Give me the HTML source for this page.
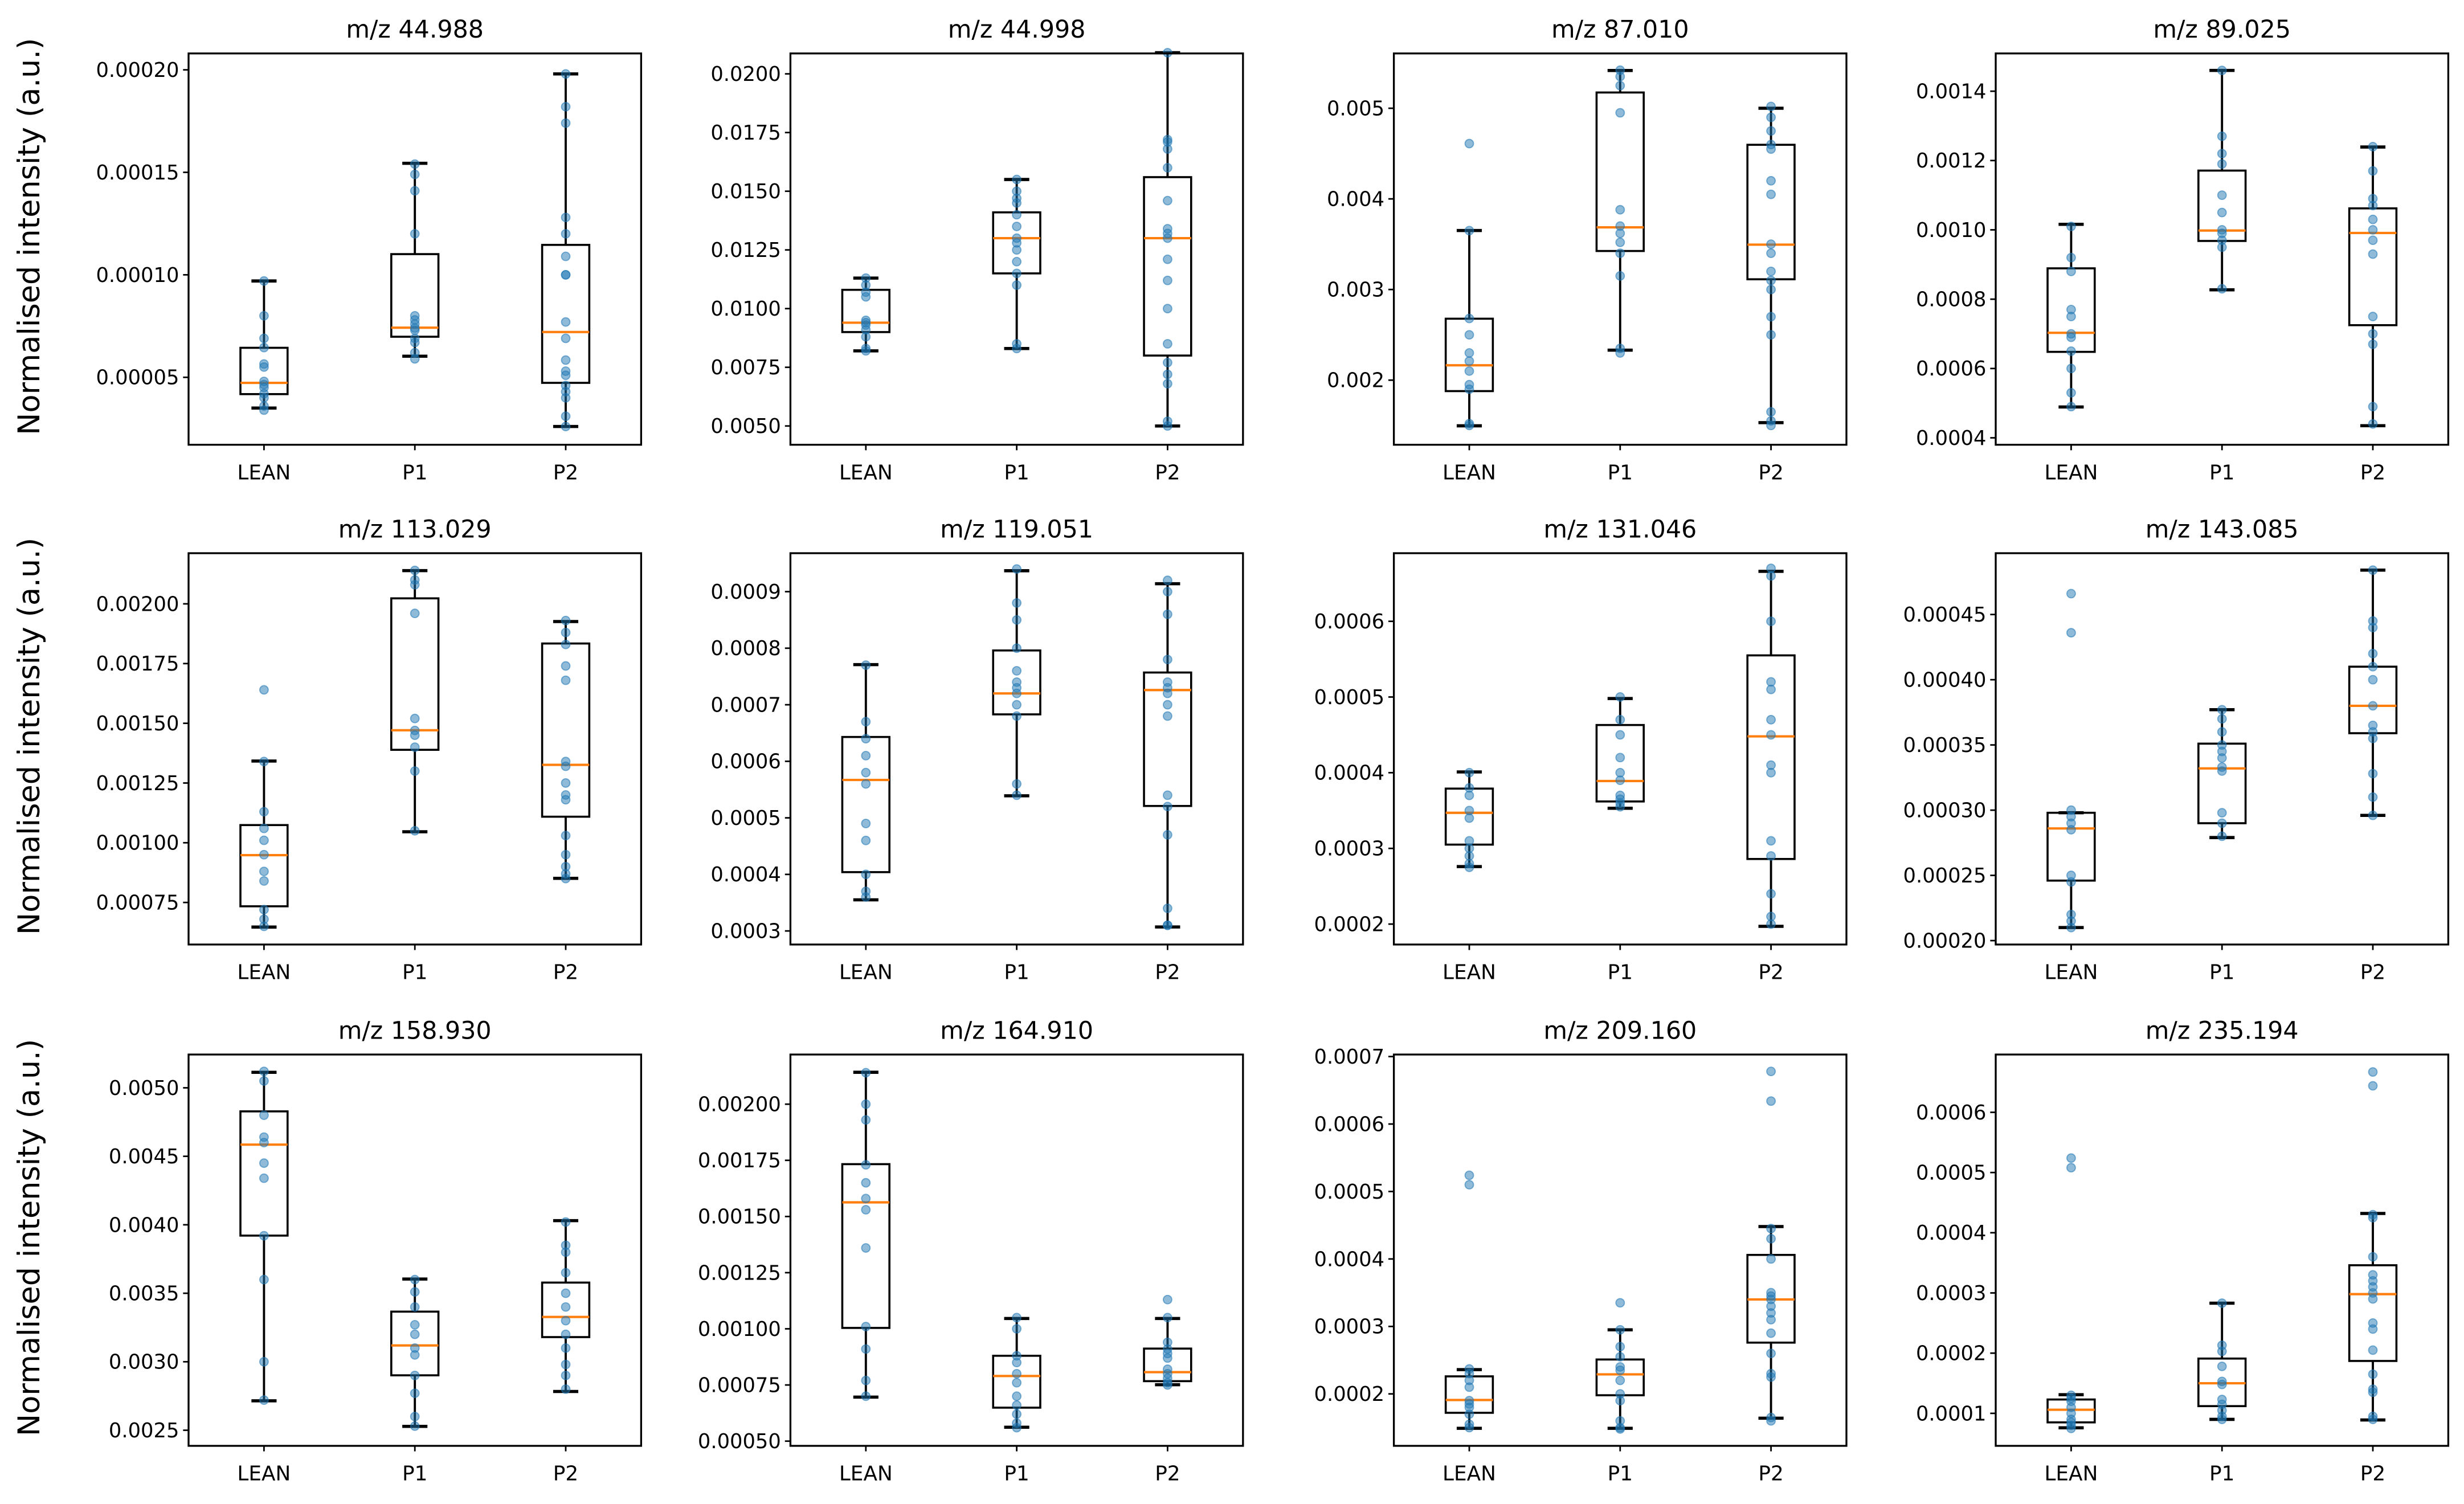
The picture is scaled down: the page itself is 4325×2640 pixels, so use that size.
<!DOCTYPE html>
<html><head><meta charset="utf-8"><style>
html,body{margin:0;padding:0;background:#fff;}
svg{display:block;}
text{font-family:"DejaVu Sans","Liberation Sans",sans-serif;fill:#000;}
</style></head><body>
<svg id="fig" width="4325" height="2640" viewBox="0 0 1568 957" preserveAspectRatio="none" xmlns="http://www.w3.org/2000/svg"></svg>
<script>
const titles=["m/z 44.988","m/z 44.998","m/z 87.010","m/z 89.025","m/z 113.029","m/z 119.051","m/z 131.046","m/z 143.085","m/z 158.930","m/z 164.910","m/z 209.160","m/z 235.194"];
const categories=["LEAN","P1","P2"];
const ylims=[[0.0000171,0.000208],[0.0042,0.02087],[0.001287,0.005605],[0.00038,0.001509],[0.000574,0.002212],[0.000276,0.000968],[0.000173,0.00069],[0.000197,0.000497],[0.002386,0.005243],[0.000479,0.002221],[0.000123,0.000703],[0.000046,0.000696]];
const tickValues=[[0.00005,0.0001,0.00015,0.0002],[0.005,0.0075,0.01,0.0125,0.015,0.0175,0.02],[0.002,0.003,0.004,0.005],[0.0004,0.0006,0.0008,0.001,0.0012,0.0014],[0.00075,0.001,0.00125,0.0015,0.00175,0.002],[0.0003,0.0004,0.0005,0.0006,0.0007,0.0008,0.0009],[0.0002,0.0003,0.0004,0.0005,0.0006],[0.0002,0.00025,0.0003,0.00035,0.0004,0.00045],[0.0025,0.003,0.0035,0.004,0.0045,0.005],[0.0005,0.00075,0.001,0.00125,0.0015,0.00175,0.002],[0.0002,0.0003,0.0004,0.0005,0.0006,0.0007],[0.0001,0.0002,0.0003,0.0004,0.0005,0.0006]];
const tickDecimals=[5,4,3,4,5,4,4,5,4,5,4,4];
// stats per group: [whiskerLow, q1, median, q3, whiskerHigh]
const stats=[
[[0.000035,0.0000418,0.0000473,0.0000644,0.000097],[0.0000603,0.0000698,0.0000742,0.0001101,0.0001544],[0.000026,0.0000473,0.0000721,0.0001146,0.000198]],
[[0.0082,0.0090,0.0094,0.0108,0.0113],[0.0083,0.0115,0.0130,0.0141,0.0155],[0.0050,0.0080,0.0130,0.0156,0.0209]],
[[0.001496,0.001879,0.002164,0.002678,0.003651],[0.002331,0.003425,0.003686,0.005174,0.005417],[0.001531,0.003113,0.003495,0.004597,0.005]],
[[0.000489,0.000648,0.000703,0.000889,0.001016],[0.000827,0.000968,0.000998,0.001171,0.00146],[0.000435,0.000725,0.000991,0.001062,0.001239]],
[[0.000647,0.000734,0.000948,0.001074,0.001342],[0.001046,0.001389,0.001471,0.002023,0.002139],[0.000851,0.001109,0.001326,0.001834,0.001926]],
[[0.000355,0.000404,0.000567,0.000643,0.000771],[0.000539,0.000683,0.00072,0.000796,0.000937],[0.000307,0.000521,0.000726,0.000757,0.000914]],
[[0.000276,0.000305,0.000347,0.000379,0.000401],[0.000353,0.000362,0.000389,0.000463,0.000498],[0.000197,0.000286,0.000448,0.000555,0.000666]],
[[0.00021,0.000246,0.000286,0.000298,0.000298],[0.000279,0.00029,0.000332,0.000351,0.000377],[0.000296,0.000359,0.00038,0.00041,0.000484]],
[[0.002715,0.003921,0.004585,0.004828,0.005113],[0.002528,0.002901,0.003119,0.003366,0.003604],[0.002783,0.00318,0.003327,0.003578,0.00403]],
[[0.000696,0.001004,0.001563,0.001733,0.002142],[0.000562,0.000649,0.00079,0.00088,0.001046],[0.000751,0.000767,0.000807,0.000912,0.001046]],
[[0.000149,0.000172,0.000191,0.000226,0.000236],[0.000149,0.000198,0.000229,0.000251,0.000295],[0.000164,0.000276,0.00034,0.000406,0.000448]],
[[0.000076,0.000085,0.000106,0.000123,0.000131],[0.00009,0.000112,0.00015,0.000191,0.000283],[0.000089,0.000187,0.000298,0.000346,0.000432]]
];
const points=[
[[0.000097,0.00008,0.000069,0.0000645,0.0000565,0.000055,0.000048,0.0000465,0.000045,0.000042,0.00004,0.000036,0.000034],[0.000154,0.000149,0.000141,0.00012,0.00008,0.000078,0.000076,0.000074,0.000073,0.000069,0.000067,0.000062,0.000059],[0.000198,0.000182,0.000174,0.000128,0.00012,0.000109,0.0001,0.0001,0.000077,0.000069,0.0000584,0.000053,0.000051,0.000046,0.000043,0.00004,0.000031,0.000026]],
[[0.0113,0.0110,0.0107,0.0105,0.0095,0.0094,0.0093,0.0091,0.0088,0.0083,0.0082],[0.0155,0.0150,0.0147,0.0145,0.0140,0.0135,0.0130,0.0128,0.0125,0.0120,0.0115,0.0110,0.0085,0.0083],[0.0209,0.0172,0.0171,0.0168,0.0160,0.0146,0.0134,0.0132,0.0130,0.0121,0.0112,0.0100,0.0085,0.0077,0.0072,0.0068,0.0052,0.0050]],
[[0.00461,0.00365,0.00268,0.0025,0.0023,0.00221,0.0021,0.00195,0.0019,0.00152,0.0015],[0.00542,0.00535,0.00525,0.00495,0.00388,0.0037,0.00362,0.00352,0.0034,0.00315,0.00235,0.0023],[0.00502,0.0049,0.00475,0.0046,0.00455,0.0042,0.00405,0.0035,0.0034,0.0032,0.0031,0.003,0.0027,0.0025,0.00165,0.00155,0.0015]],
[[0.00101,0.00092,0.00088,0.00077,0.00075,0.0007,0.00069,0.00065,0.0006,0.00053,0.00049],[0.00146,0.00127,0.00122,0.00119,0.0011,0.00105,0.001,0.00099,0.00097,0.00095,0.00083],[0.00124,0.00117,0.00109,0.00107,0.00103,0.001,0.00097,0.00093,0.00075,0.0007,0.00067,0.00049,0.00044]],
[[0.00164,0.00134,0.00113,0.00106,0.00101,0.00095,0.00088,0.00084,0.00072,0.00068,0.00065],[0.00214,0.0021,0.00208,0.00196,0.00152,0.00147,0.00145,0.0014,0.0013,0.00105],[0.00193,0.00188,0.00183,0.00174,0.00168,0.00134,0.00132,0.00125,0.0012,0.00118,0.00103,0.00095,0.0009,0.00087,0.00085]],
[[0.00077,0.00067,0.00064,0.00061,0.00058,0.00056,0.00049,0.00046,0.0004,0.00037,0.00036],[0.00094,0.00088,0.00085,0.0008,0.00076,0.00074,0.00073,0.00072,0.0007,0.00068,0.00056,0.00054],[0.00092,0.0009,0.00086,0.00078,0.00074,0.00073,0.00072,0.0007,0.00068,0.00054,0.00052,0.00047,0.00034,0.00031,0.00031]],
[[0.0004,0.00038,0.00037,0.00035,0.00034,0.00031,0.0003,0.00029,0.00028,0.000275],[0.0005,0.00047,0.00045,0.00042,0.0004,0.00039,0.00037,0.000365,0.00036,0.000355],[0.00067,0.00066,0.0006,0.00052,0.00051,0.00047,0.00045,0.00041,0.0004,0.00031,0.00029,0.00024,0.00021,0.0002]],
[[0.000466,0.000436,0.0003,0.000295,0.00029,0.000285,0.00025,0.000245,0.00022,0.000215,0.00021],[0.000377,0.00037,0.00036,0.00035,0.000345,0.00034,0.00033,0.000333,0.000298,0.00029,0.00028],[0.000484,0.000445,0.00044,0.00042,0.00041,0.0004,0.00038,0.000365,0.00036,0.000355,0.000328,0.00031,0.000296]],
[[0.00512,0.00505,0.0048,0.00464,0.0046,0.00445,0.00434,0.00392,0.0036,0.003,0.00272],[0.0036,0.00351,0.0034,0.00327,0.0032,0.0031,0.00305,0.0029,0.00277,0.0026,0.00253],[0.00402,0.00385,0.0038,0.00365,0.0035,0.0034,0.0033,0.0032,0.0031,0.00298,0.0029,0.0028]],
[[0.00214,0.002,0.00193,0.00173,0.00165,0.00158,0.00153,0.00136,0.00101,0.00091,0.00077,0.0007],[0.00105,0.001,0.00088,0.00085,0.0008,0.00076,0.0007,0.00066,0.00062,0.00058,0.00056],[0.00113,0.00105,0.00094,0.00091,0.00089,0.00087,0.00082,0.0008,0.00078,0.00076,0.00075]],
[[0.000524,0.00051,0.000237,0.00023,0.00022,0.00021,0.00019,0.000185,0.00018,0.00017,0.000155,0.00015],[0.000335,0.000295,0.00027,0.000255,0.00024,0.000235,0.00022,0.0002,0.00019,0.00016,0.00015,0.000148],[0.000678,0.000634,0.000445,0.00043,0.0004,0.00035,0.000345,0.00034,0.00033,0.00032,0.00031,0.00029,0.00026,0.00023,0.000225,0.000165,0.00016]],
[[0.000524,0.000508,0.00013,0.000125,0.00012,0.00011,0.0001,0.00009,0.000085,0.00008,0.000075],[0.000283,0.000213,0.000203,0.000178,0.000153,0.000148,0.000123,0.000115,0.000105,0.000095,0.00009],[0.000667,0.000644,0.00043,0.000425,0.00036,0.00033,0.00032,0.00031,0.0003,0.00029,0.00025,0.00024,0.000205,0.000165,0.00014,0.000135,0.000095,0.00009]]
];

const NS="http://www.w3.org/2000/svg";
const svg=document.getElementById('fig');
const colLeft=[120,503,887,1270], rowTop=[34,352,671], W=288, H=249;
function mk(tag,attrs,parent){const e=document.createElementNS(NS,tag);for(const k in attrs)e.setAttribute(k,attrs[k]);parent.appendChild(e);return e;}

for(let p=0;p<12;p++){
  const r=Math.floor(p/4), c=p%4;
  const x0=colLeft[c], y0=rowTop[r];
  const g=mk('g',{},svg);
  
  
  const lim=ylims[p];
  const yS=v=>y0+H-(v-lim[0])/(lim[1]-lim[0])*H;
  const xS=i=>x0+W*(i+0.5)/3;
  const t=mk('text',{x:x0+W/2,y:y0-10,'text-anchor':'middle','font-size':15.5},g);
  t.textContent=titles[p];
  
  
  tickValues[p].forEach(v=>{
    const y=yS(v);
    const tk=mk('line',{x1:x0-3.5,x2:x0,y1:y,y2:y,stroke:'#000','stroke-width':1},g);
    
    
    const tl=mk('text',{x:x0-6,y:y+4.5,'text-anchor':'end','font-size':12.8},g);
    tl.textContent=v.toFixed(tickDecimals[p]);
    
    
  });
  categories.forEach((cat,i)=>{
    const cx=xS(i), s=stats[p][i];
    const gg=mk('g',{},g);
    
    
    const bw=15, cw=8;
    mk('line',{x1:cx,x2:cx,y1:yS(s[0]),y2:yS(s[1]),stroke:'#000','stroke-width':1.4},gg);
    mk('line',{x1:cx,x2:cx,y1:yS(s[3]),y2:yS(s[4]),stroke:'#000','stroke-width':1.4},gg);
    mk('line',{x1:cx-cw,x2:cx+cw,y1:yS(s[0]),y2:yS(s[0]),stroke:'#000','stroke-width':2},gg);
    mk('line',{x1:cx-cw,x2:cx+cw,y1:yS(s[4]),y2:yS(s[4]),stroke:'#000','stroke-width':2},gg);
    mk('rect',{x:cx-bw,y:yS(s[3]),width:2*bw,height:Math.max(0.5,yS(s[1])-yS(s[3])),fill:'none',stroke:'#000','stroke-width':1.3},gg);
    mk('line',{x1:cx-bw,x2:cx+bw,y1:yS(s[2]),y2:yS(s[2]),stroke:'#ff7f0e','stroke-width':1.5},gg);
    points[p][i].forEach(v=>{
      const d=mk('circle',{cx:cx,cy:yS(v),r:2.7,fill:'#1f77b4','fill-opacity':0.5,stroke:'#1f77b4','stroke-opacity':0.55,'stroke-width':0.7},gg);
      
      
    });
    const xt=mk('line',{x1:cx,x2:cx,y1:y0+H,y2:y0+H+3.5,stroke:'#000','stroke-width':1},g);
    
    
    const xl=mk('text',{x:cx,y:y0+H+22,'text-anchor':'middle','font-size':13},g);
    xl.textContent=cat;
    
    
  });
  const fr=mk('rect',{x:x0,y:y0,width:W,height:H,fill:'none',stroke:'#000','stroke-width':1.2},g);
  
  
  if(c===0){
    const yl=mk('text',{x:0,y:0,'text-anchor':'middle','font-size':19,transform:'translate(25,'+(y0+H/2-8)+') rotate(-90)'},g);
    yl.textContent='Normalised intensity (a.u.)';
    
    
  }
}
</script>
</body></html>
